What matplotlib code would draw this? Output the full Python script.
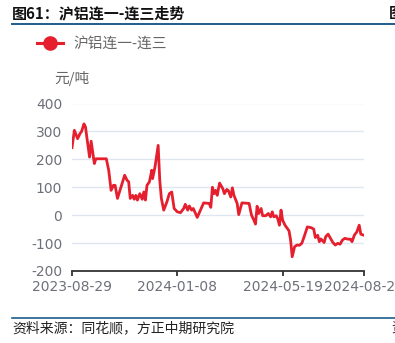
import matplotlib
matplotlib.use("Agg")
import matplotlib.pyplot as plt
from matplotlib.lines import Line2D
import pandas as pd

plt.rcParams["font.family"] = ["Noto Sans CJK SC", "DejaVu Sans"]

# SHFE aluminium: 1st-month minus 3rd-month contract spread (yuan/ton)
dates = [
    "2023-08-29", "2023-09-01", "2023-09-05", "2023-09-08", "2023-09-10", "2023-09-13",
    "2023-09-15", "2023-09-16", "2023-09-20", "2023-09-22", "2023-09-26", "2023-09-28",
    "2023-10-11", "2023-10-14", "2023-10-17", "2023-10-20", "2023-10-22", "2023-10-25",
    "2023-11-03", "2023-11-06", "2023-11-08", "2023-11-10", "2023-11-13", "2023-11-15",
    "2023-11-17", "2023-11-19", "2023-11-22", "2023-11-25", "2023-11-27", "2023-11-29",
    "2023-12-01", "2023-12-04", "2023-12-07", "2023-12-08", "2023-12-11", "2023-12-15",
    "2023-12-17", "2023-12-19", "2023-12-22", "2023-12-26", "2023-12-29", "2024-01-01",
    "2024-01-04", "2024-01-08", "2024-01-12", "2024-01-16", "2024-01-18", "2024-01-21",
    "2024-01-23", "2024-01-26", "2024-01-28", "2024-02-02", "2024-02-06", "2024-02-10",
    "2024-02-17", "2024-02-19", "2024-02-21", "2024-02-23", "2024-02-25", "2024-02-27",
    "2024-03-01", "2024-03-05", "2024-03-07", "2024-03-10", "2024-03-12", "2024-03-15",
    "2024-03-17", "2024-03-19", "2024-03-23", "2024-03-25", "2024-03-29", "2024-04-07",
    "2024-04-10", "2024-04-13", "2024-04-15", "2024-04-17", "2024-04-19", "2024-04-22",
    "2024-04-24", "2024-04-28", "2024-05-01", "2024-05-04", "2024-05-06", "2024-05-08",
    "2024-05-11", "2024-05-13", "2024-05-15", "2024-05-17", "2024-05-19", "2024-05-22",
    "2024-05-24", "2024-05-27", "2024-05-29", "2024-05-31", "2024-06-03", "2024-06-06",
    "2024-06-09", "2024-06-12", "2024-06-15", "2024-06-19", "2024-06-24", "2024-06-27",
    "2024-06-29", "2024-07-02", "2024-07-04", "2024-07-06", "2024-07-10", "2024-07-12",
    "2024-07-15", "2024-07-18", "2024-07-21", "2024-07-24", "2024-07-27", "2024-07-30",
    "2024-08-02", "2024-08-05", "2024-08-09", "2024-08-12", "2024-08-14", "2024-08-17",
    "2024-08-20", "2024-08-23", "2024-08-25", "2024-08-28", "2024-08-29",
]
spread = [
    242, 304, 274, 292, 300, 327,
    315, 292, 208, 265, 185, 202,
    202, 161, 89, 107, 107, 60,
    143, 125, 120, 60, 71, 57,
    71, 54, 77, 57, 83, 54,
    107, 119, 161, 131, 172, 250,
    125, 60, 18, 48, 77, 83,
    24, 12, 9, 24, 39, 18,
    33, 18, 24, -8, 18, 44,
    42, 28, 100, 77, 89, 71,
    115, 95, 77, 92, 88, 65,
    98, 71, 42, 2, 44, 42,
    0, -18, -32, 32, 6, 24,
    -2, -2, 6, -6, 12, -6,
    -2, -14, -36, 18, -18, -36,
    -44, -56, -89, -149, -113, -107,
    -108, -101, -77, -42, -45, -50,
    -80, -72, -95, -85, -98, -77,
    -68, -83, -98, -107, -101, -104,
    -89, -83, -86, -86, -95, -71,
    -60, -36, -68, -71, -72,
]

tick_dates = ["2023-08-29", "2024-01-08", "2024-05-19", "2024-08-29"]
y_ticks = [-200, -100, 0, 100, 200, 300, 400]

W, H = 395, 343
RED = "#E51F2E"
GRAY = "#6E7079"
NAVY = "#1F5C8B"
TICK_FONT = ["DejaVu Sans"]


def fx(x):
    return x / W


def fy(y):
    return 1 - y / H


fig = plt.figure(figsize=(W / 100, H / 100), dpi=100)
fig.patch.set_facecolor("white")

ax = fig.add_axes([fx(72), fy(271), (364 - 72) / W, (271 - 103.5) / H])
x = pd.to_datetime(dates)
ax.plot(x, spread, color=RED, lw=2.0, solid_joinstyle="round", zorder=3)

ax.set_xlim(pd.Timestamp(tick_dates[0]), pd.Timestamp(tick_dates[-1]))
ax.set_ylim(y_ticks[0], y_ticks[-1])
ax.set_yticks(y_ticks)
ax.set_yticklabels([str(v) for v in y_ticks], family=TICK_FONT)
ax.set_xticks(pd.to_datetime(tick_dates))
ax.set_xticklabels(tick_dates, family=TICK_FONT)

for s in ("top", "right", "left"):
    ax.spines[s].set_visible(False)
ax.spines["bottom"].set_color("#333333")
ax.spines["bottom"].set_linewidth(1.3)

ax.yaxis.grid(True, color="#E0E6F1", lw=1.0)
ax.set_axisbelow(True)
ax.tick_params(axis="y", length=0, pad=7, labelsize=10, labelcolor=GRAY)
ax.tick_params(axis="x", length=3.8, width=1.3, color="#333333", pad=2.5,
               labelsize=10, labelcolor=GRAY)
for lbl in ax.get_xticklabels():
    lbl.set_clip_on(False)

# Header
fig.text(fx(12), fy(13), "图61：沪铝连一-连三走势", fontsize=10.8, weight="bold",
         color="#111111", va="center", ha="left")
fig.text(fx(389), fy(13), "图", fontsize=10.8, weight="bold",
         color="#111111", va="center", ha="left")
fig.add_artist(Line2D([fx(12), 1], [fy(23.5), fy(23.5)], color=NAVY, lw=1.4))

# Legend
fig.add_artist(Line2D([fx(37), fx(63)], [fy(43.3), fy(43.3)], color=RED, lw=2.2))
fig.add_artist(Line2D([fx(50)], [fy(43.3)], color=RED, marker="o", markersize=9.5,
                      markeredgecolor=RED))
fig.text(fx(73), fy(43.3), "沪铝连一-连三", fontsize=10.6, color="#666666",
         va="center", ha="left")

# Unit label
fig.text(fx(54), fy(78), "元/吨", fontsize=10.6, color="#666666", va="center", ha="left")

# Footer
fig.add_artist(Line2D([fx(12), 1], [fy(318), fy(318)], color=NAVY, lw=1.2))
fig.text(fx(12), fy(328), "资料来源：同花顺，方正中期研究院", fontsize=10, style="italic",
         color="#222222", va="center", ha="left")
fig.text(fx(391), fy(328), "资", fontsize=10, color="#222222", va="center", ha="left")

fig.savefig("out.png", dpi=100)
